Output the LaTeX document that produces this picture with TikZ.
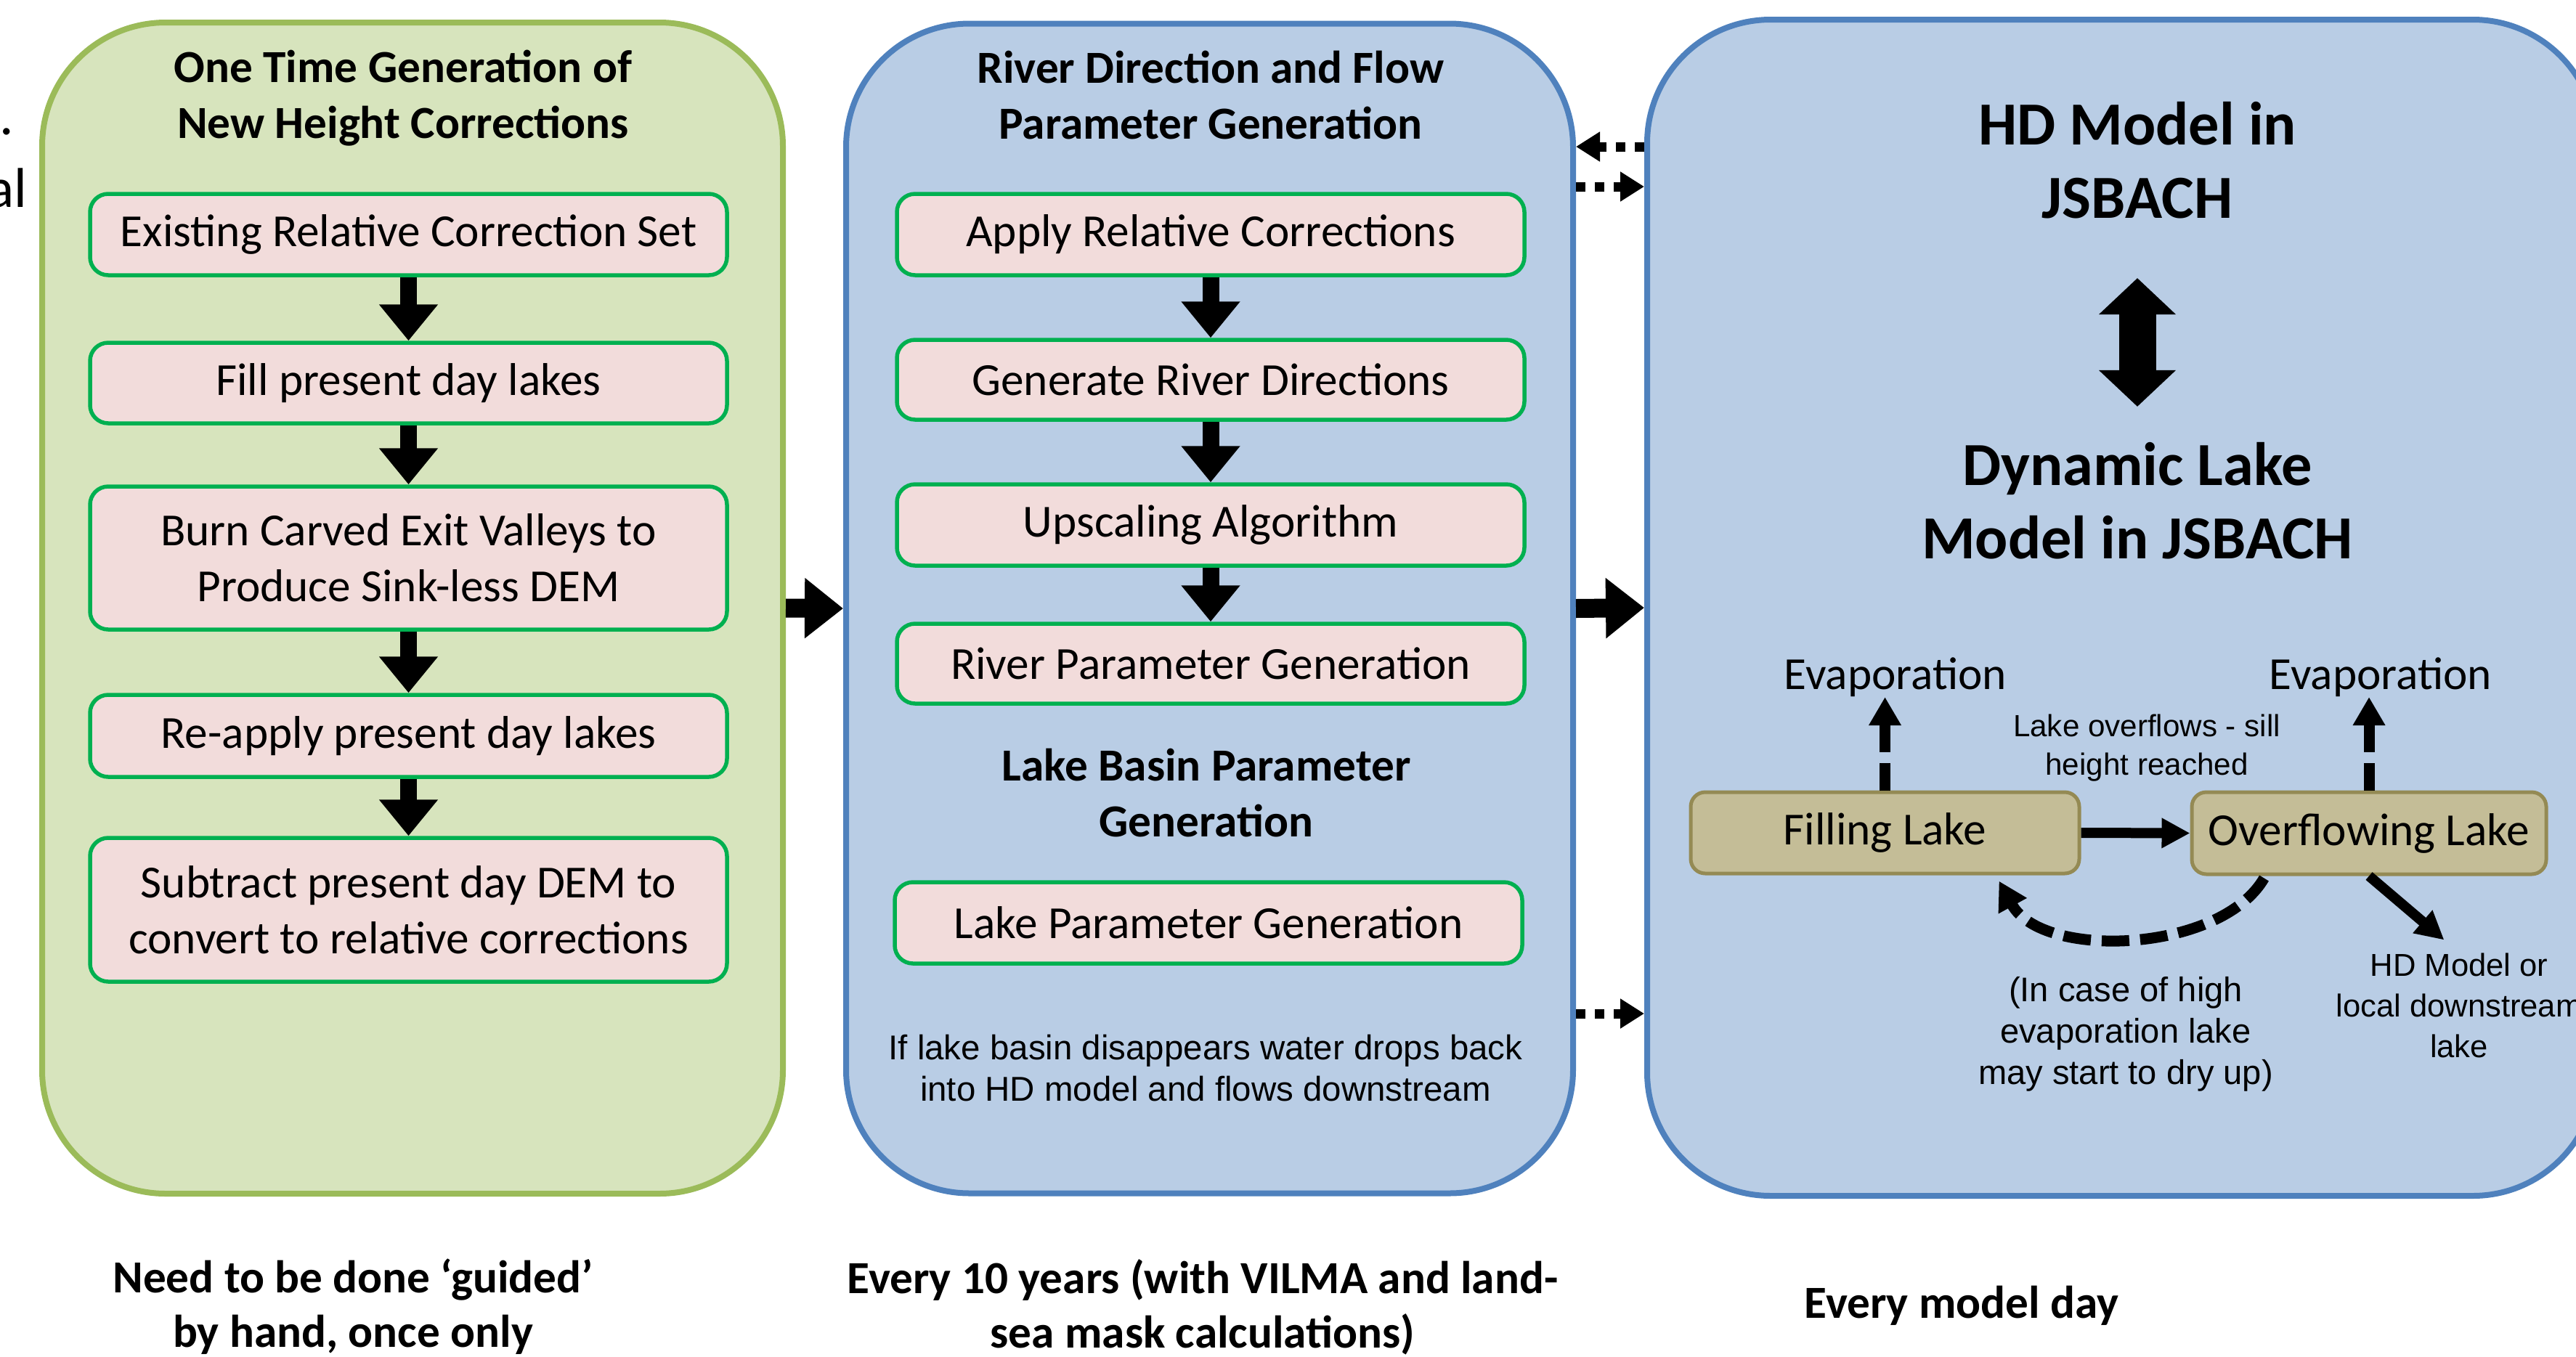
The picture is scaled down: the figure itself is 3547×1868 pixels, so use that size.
\documentclass[tikz,border=0pt]{standalone}
\usepackage{fontspec}
\setmainfont{Carlito}
\newfontfamily\arialfont{Liberation Sans}
\usetikzlibrary{arrows.meta,calc}

\definecolor{greenfill}{HTML}{D7E4BD}
\definecolor{greenline}{HTML}{9BBB59}
\definecolor{bluefill}{HTML}{B9CDE5}
\definecolor{blueline}{HTML}{4F81BD}
\definecolor{boxpink}{HTML}{F2DCDB}
\definecolor{boxgreen}{HTML}{00B050}
\definecolor{lakefill}{HTML}{C4BD97}
\definecolor{lakeline}{HTML}{948A54}

\tikzset{
  panel/.style={line width=0.8mm, rounded corners=17mm, inner sep=0},
  stepbox/.style={draw=boxgreen, fill=boxpink, line width=0.55mm, rounded corners=2.5mm,
    inner sep=0, align=center, font=\fontsize{18}{22}\selectfont},
  lakebox/.style={draw=lakeline, fill=lakefill, line width=0.5mm, rounded corners=2mm,
    inner sep=0, font=\fontsize{18}{22}\selectfont},
  title/.style={inner sep=0, align=center, font=\bfseries\fontsize{18}{22}\selectfont},
  bigtitle/.style={inner sep=0, align=center, font=\bfseries\fontsize{24}{28.7}\selectfont},
  plain/.style={inner sep=0, align=center, font=\fontsize{18}{22}\selectfont},
  note/.style={inner sep=0, align=center, font=\arialfont\fontsize{13.4}{16.2}\selectfont},
  blockarrow/.style={line width=2.3mm, -{Triangle[width=7.8mm,length=5mm]}},
  bigarrow/.style={line width=2.6mm, -{Triangle[width=8mm,length=5.3mm]}},
  dotarrow/.style={line width=1.3mm, dash pattern=on 1.3mm off 1.3mm, -{Triangle[width=3.9mm,length=3.3mm]}},
  lakearrow/.style={line width=1.4mm, -{Triangle[width=3.9mm,length=3.9mm]}},
  evaparrow/.style={line width=1.5mm, dash pattern=on 3.8mm off 1.5mm, -{Triangle[width=4.2mm,length=3.9mm]}}
}

\begin{document}
\begin{tikzpicture}[x=0.1mm,y=-0.1mm]
  \useasboundingbox (0,0) rectangle (3547,1868);

  \node[plain, anchor=base east, font=\fontsize{22}{26}\selectfont] at (20,185) (edgedot) {.};
  \node[plain, anchor=base east, font=\fontsize{22}{26}\selectfont] at (38,285) (edgeal) {al};

  \node[panel, draw=greenline, fill=greenfill, minimum width=102mm, minimum height=161.3mm] at (568,837.5) (left) {};
  \node[panel, draw=blueline, fill=bluefill, minimum width=100.1mm, minimum height=161.1mm] at (1665.5,838) (mid) {};
  \node[panel, draw=blueline, fill=bluefill, minimum width=130.7mm, minimum height=162mm] at (2921.5,837) (right) {};

  \node[title] at (555,135) (lefttitle) {One Time Generation of\\New Height Corrections};
  \node[stepbox, minimum width=87.7mm, minimum height=11.2mm] at (562.5,323) (b1) {Existing Relative Correction Set};
  \node[stepbox, minimum width=87.7mm, minimum height=11.1mm] at (562.5,527.5) (b2) {Fill present day lakes};
  \node[stepbox, minimum width=87.7mm, minimum height=19.7mm] at (562.5,768.5) (b3) {Burn Carved Exit Valleys to\\Produce Sink-less DEM};
  \node[stepbox, minimum width=87.7mm, minimum height=11.3mm] at (562.5,1013.5) (b4) {Re-apply present day lakes};
  \node[stepbox, minimum width=87.7mm, minimum height=19.8mm] at (562.5,1253) (b5) {Subtract present day DEM to\\convert to relative corrections};

  \node[title] at (1667,131) (midtitle) {River Direction and Flow\\Parameter Generation};
  \node[stepbox, minimum width=86.4mm, minimum height=11.2mm] at (1667,323) (m1) {Apply Relative Corrections};
  \node[stepbox, minimum width=86.4mm, minimum height=11mm] at (1667,523) (m2) {Generate River Directions};
  \node[stepbox, minimum width=86.4mm, minimum height=11.2mm] at (1667,723) (m3) {Upscaling Algorithm};
  \node[stepbox, minimum width=86.4mm, minimum height=11mm] at (1667,914) (m4) {River Parameter Generation};
  \node[title] at (1661,1092) (basintitle) {Lake Basin Parameter\\Generation};
  \node[stepbox, minimum width=86.4mm, minimum height=11.2mm] at (1664,1271) (m5) {Lake Parameter Generation};
  \node[note, font=\arialfont\fontsize{13.5}{16}\selectfont] at (1660,1471) (dropnote) {If lake basin disappears water drops back\\into HD model and flows downstream};

  \foreach \a/\b in {b1/b2,b2/b3,b3/b4,b4/b5,m1/m2,m2/m3,m3/m4}
    \draw[blockarrow] (\a.south) -- (\b.north);

  \draw[bigarrow] (left.east) -- (mid.west);
  \draw[bigarrow] (mid.east) -- (right.west);

  \coordinate (d1) at (0,202);
  \coordinate (d2) at (0,257);
  \coordinate (d3) at (0,1396);
  \draw[dotarrow] (right.west |- d1) -- (mid.east |- d1);
  \draw[dotarrow] (mid.east |- d2) -- (right.west |- d2);
  \draw[dotarrow] (mid.east |- d3) -- (right.west |- d3);

  \node[bigtitle] at (2943,221) (hdm) {HD Model in\\JSBACH};
  \node[bigtitle] at (2943,690) (dlm) {Dynamic Lake\\Model in JSBACH};
  \draw[line width=5.1mm, {Triangle[width=10.3mm,length=5mm]}-{Triangle[width=10.3mm,length=5mm]},
    shorten <=8.1mm, shorten >=4.9mm] (hdm.south) -- (dlm.north);

  \node[lakebox, minimum width=53.5mm, minimum height=11.2mm] at (2595.5,1147) (fill) {Filling Lake};
  \node[lakebox, minimum width=48.8mm, minimum height=11.3mm] at (3262,1147.5) (ovl) {Overflowing Lake};
  \node[plain, anchor=south] at (2610,960) (evapL) {Evaporation};
  \node[plain, anchor=south] at (3278,960) (evapR) {Evaporation};
  \node[note, font=\arialfont\fontsize{12}{15}\selectfont] at (2956,1030) (silltxt) {Lake overflows - sill\\height reached};
  \node[note] at (2927,1424) (drytxt) {(In case of high\\evaporation lake\\may start to dry up)};
  \node[note, font=\arialfont\fontsize{12.4}{16}\selectfont] at (3386,1385) (hdtxt) {HD Model or\\local downstream\\lake};

  \draw[evaparrow] (fill.north) -- (fill.north |- evapL.south);
  \draw[evaparrow] (ovl.north) -- (ovl.north |- evapR.south);
  \draw[lakearrow] (fill.east) -- (ovl.west);
  \draw[lakearrow, shorten >=2.7mm] (ovl.south) -- (hdtxt.north);
  \draw[evaparrow] ($(ovl.south west)+(102,3)$) .. controls +(-60,103) and +(60,109) .. ($(fill.south east)+(-113,8)$);

  \node[title, font=\bfseries\fontsize{18}{21.3}\selectfont] at (486,1800) (once) {Need to be done `guided'\\by hand, once only};
  \node[title, font=\bfseries\fontsize{18}{21.3}\selectfont] at (1656,1800) (decade) {Every 10 years (with VILMA and land-\\sea mask calculations)};
  \node[title] at (2701,1798) (daily) {Every model day};
\end{tikzpicture}
\end{document}
